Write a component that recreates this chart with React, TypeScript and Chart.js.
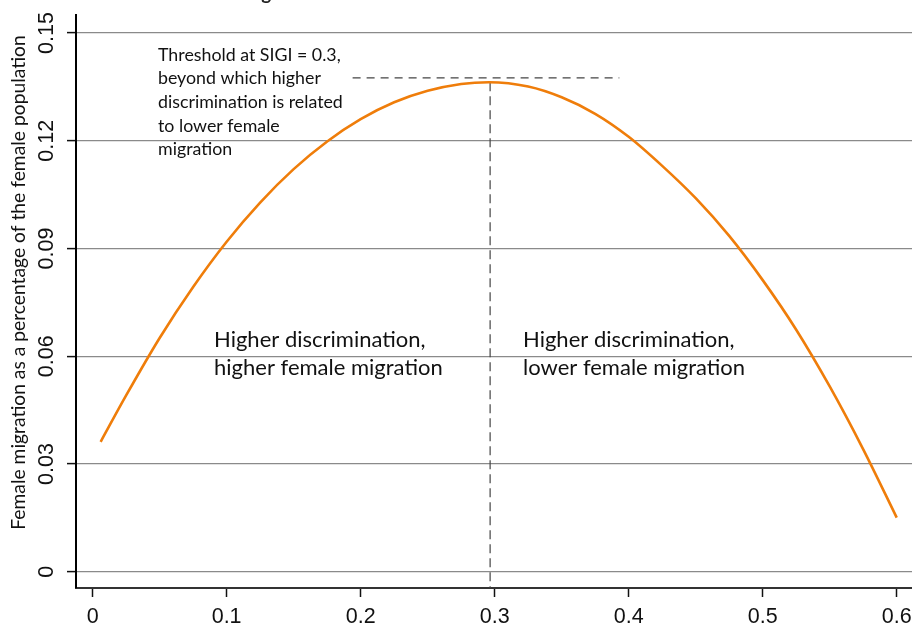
import React, { useEffect, useRef } from "react";
import { Chart, registerables } from "chart.js";

Chart.register(...registerables);

// SIGI value (x) and female migration share (y)
const sigiValues = [0.006, 0.025, 0.05, 0.075, 0.1, 0.125, 0.15, 0.175, 0.2, 0.225, 0.25, 0.275, 0.2957, 0.325, 0.35, 0.375, 0.4, 0.425, 0.45, 0.475, 0.5, 0.525, 0.55, 0.575, 0.6];
const migrationValues = [0.0362, 0.0491, 0.0651, 0.0793, 0.0919, 0.1028, 0.1121, 0.1198, 0.126, 0.1307, 0.1339, 0.1358, 0.1363, 0.1351, 0.1321, 0.1275, 0.1211, 0.113, 0.104, 0.0935, 0.0812, 0.0674, 0.0516, 0.0341, 0.0151];

const thresholdX = 0.2966;
const peakY = 0.1363;
const guideY = 0.1375;
const guideXFrom = 0.194;
const guideXTo = 0.393;

const xTickValues = [0, 0.1, 0.2, 0.3, 0.4, 0.5, 0.6];
const yTickValues = [0, 0.03, 0.06, 0.09, 0.12, 0.15];

const xMin = -0.0124;
const xMax = 0.6114;
const yMin = -0.0045;
const yMax = 0.155;

const titleText = "Discrimination and female migration";
const yTitleText = "Female migration as a percentage of the female population";
const thresholdNote = ["Threshold at SIGI = 0.3,", "beyond which higher", "discrimination is related", "to lower female", "migration"];
const leftNote = ["Higher discrimination,", "higher female migration"];
const rightNote = ["Higher discrimination,", "lower female migration"];

const SANS = "'Liberation Sans', Arial, sans-serif";
const CAL = "Lato, 'Open Sans', sans-serif";

const fmt = (v: number) => String(Number(v.toFixed(2)));

export default function App() {
  const ref = useRef<HTMLCanvasElement | null>(null);
  useEffect(() => {
    const canvas = ref.current;
    if (!canvas) return;
    const textPlugin = {
      id: "texts",
      afterDraw(chart: any) {
        const ctx = chart.ctx;
        const ys = chart.scales.y;
        const xs = chart.scales.x;
        ctx.save();
        // clipped title at the very top
        ctx.fillStyle = "#222";
        ctx.font = `bold 19px ${CAL}`;
        ctx.textAlign = "left";
        ctx.textBaseline = "alphabetic";
        ctx.fillText(titleText, 15, -0.5);
        // tick labels
        ctx.font = `21.5px ${SANS}`;
        ctx.fillStyle = "#111";
        ctx.textAlign = "center";
        ctx.textBaseline = "middle";
        yTickValues.forEach((v) => {
          ctx.save();
          ctx.translate(47, ys.getPixelForValue(v));
          ctx.rotate(-Math.PI / 2);
          ctx.fillText(fmt(v), 0, 0);
          ctx.restore();
        });
        xTickValues.forEach((v) => {
          ctx.fillText(fmt(v), xs.getPixelForValue(v), 617);
        });
        // y title
        ctx.save();
        ctx.fillStyle = "#111";
        let size = 16;
        ctx.font = `${size}px ${CAL}`;
        size = (size * 495) / ctx.measureText(yTitleText).width;
        ctx.font = `${size}px ${CAL}`;
        ctx.translate(19, 282.5);
        ctx.rotate(-Math.PI / 2);
        ctx.fillText(yTitleText, 0, 0);
        ctx.restore();
        // annotations
        ctx.textAlign = "left";
        ctx.textBaseline = "middle";
        ctx.fillStyle = "#111";
        ctx.font = `17.8px ${CAL}`;
        thresholdNote.forEach((t, i) => ctx.fillText(t, 158, 55 + i * 23.6));
        ctx.font = `22px ${CAL}`;
        leftNote.forEach((t, i) => ctx.fillText(t, 214, 340 + i * 28));
        rightNote.forEach((t, i) => ctx.fillText(t, 523, 340 + i * 28));
        ctx.restore();
      },
    };
    const chart = new Chart(canvas, {
      type: "scatter",
      data: {
        datasets: [
          {
            data: sigiValues.map((x, i) => ({ x, y: migrationValues[i] })),
            showLine: true,
            borderColor: "#EF7D0A",
            borderWidth: 2.6,
            pointRadius: 0,
            cubicInterpolationMode: "monotone",
          },
          {
            data: [
              { x: thresholdX, y: peakY },
              { x: thresholdX, y: yMin },
            ],
            showLine: true,
            borderColor: "#444",
            borderWidth: 1.2,
            borderDash: [9, 5],
            pointRadius: 0,
          },
          {
            data: [
              { x: guideXFrom, y: guideY },
              { x: guideXTo, y: guideY },
            ],
            showLine: true,
            borderColor: "#444",
            borderWidth: 1.2,
            borderDash: [8, 6],
            pointRadius: 0,
          },
        ],
      },
      options: {
        responsive: false,
        animation: false,
        layout: { padding: { top: 15, right: 0, left: 0, bottom: 0 } },
        plugins: { legend: { display: false }, tooltip: { enabled: false } },
        scales: {
          x: {
            type: "linear",
            min: xMin,
            max: xMax,
            afterBuildTicks: (s: any) => {
              s.ticks = xTickValues.map((v) => ({ value: v }));
            },
            afterFit: (s: any) => {
              s.height = 40;
            },
            border: { color: "#333", width: 2 },
            grid: { drawOnChartArea: false, drawTicks: true, tickLength: 9, tickColor: "#111", tickWidth: 1.5 },
            ticks: { display: false },
          },
          y: {
            type: "linear",
            min: yMin,
            max: yMax,
            afterBuildTicks: (s: any) => {
              s.ticks = yTickValues.map((v) => ({ value: v }));
            },
            afterFit: (s: any) => {
              s.width = 76;
            },
            border: { color: "#000", width: 2 },
            grid: { color: "#8a8a8a", lineWidth: 1.2, drawTicks: true, tickLength: 9, tickColor: "#111", tickWidth: 1.5 },
            ticks: { display: false },
          },
        },
      },
      plugins: [textPlugin],
    } as any);
    return () => chart.destroy();
  }, []);
  return (
    <div style={{ position: "absolute", left: 0, top: 0, width: 912, height: 628, background: "#fff" }}>
      <canvas ref={ref} width={912} height={628} style={{ display: "block" }} />
    </div>
  );
}
